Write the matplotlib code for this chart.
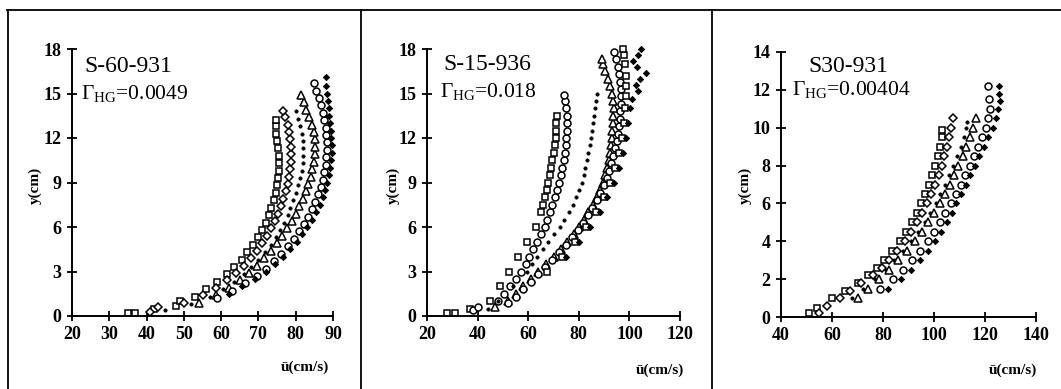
import matplotlib
matplotlib.use("Agg")
import matplotlib.pyplot as plt
from matplotlib.lines import Line2D

plt.rcParams['font.family'] = ['Liberation Serif', 'DejaVu Serif']
plt.rcParams['mathtext.fontset'] = 'custom'
plt.rcParams['mathtext.rm'] = 'Liberation Serif'
plt.rcParams['mathtext.it'] = 'Liberation Serif:italic'
plt.rcParams['mathtext.bf'] = 'Liberation Serif:bold'

# ---------------- Panel 1: S-60-931 ----------------
p1_title = "S-60-931"
p1_gamma = "0.0049"
p1_xticks = [20, 30, 40, 50, 60, 70, 80, 90]
p1_yticks = [0, 3, 6, 9, 12, 15, 18]

p1_s1_y = [0.2, 0.2, 0.5, 0.7, 1.0, 1.3, 1.8, 2.3, 2.8, 3.3, 3.8, 4.3, 4.8, 5.3, 5.8, 6.3, 6.8, 7.3, 7.8, 8.3, 8.8, 9.3, 9.8, 10.3, 10.8, 11.3, 11.8, 12.3, 12.8, 13.2]
p1_s1_u = [35, 37, 42, 48, 49, 53, 56, 59, 61.5, 63.5, 65.5, 67, 68.5, 69.8, 71, 72, 72.8, 73.5, 74.1, 74.6, 75, 75.3, 75.5, 75.6, 75.5, 75.3, 75, 74.8, 74.6, 74.6]

p1_s2_y = [0.3, 0.6, 0.9, 1.4, 1.9, 2.4, 2.9, 3.4, 3.9, 4.4, 4.9, 5.4, 5.9, 6.4, 6.9, 7.4, 7.9, 8.4, 8.9, 9.4, 9.9, 10.4, 10.9, 11.4, 11.9, 12.4, 12.9, 13.4, 13.8]
p1_s2_u = [41, 43, 50, 55, 58.5, 61.5, 64, 66, 68, 69.6, 71, 72.3, 73.4, 74.4, 75.3, 76, 76.7, 77.3, 77.8, 78.2, 78.5, 78.7, 78.8, 78.8, 78.6, 78.3, 77.8, 77.2, 76.7]

p1_s3_y = [0.4, 0.8, 1.3, 1.8, 2.3, 2.8, 3.3, 3.8, 4.3, 4.8, 5.3, 5.8, 6.3, 6.8, 7.3, 7.8, 8.3, 8.8, 9.3, 9.8, 10.3, 10.8, 11.3, 11.8, 12.3, 12.8, 13.3, 13.8]
p1_s3_u = [45, 52, 57, 60.5, 63.5, 66, 68, 70, 71.8, 73.3, 74.6, 75.8, 76.9, 77.8, 78.6, 79.4, 80.1, 80.7, 81.2, 81.6, 81.9, 82, 82, 81.9, 81.6, 81.2, 80.6, 80]

p1_s4_y = [0.9, 1.4, 1.9, 2.4, 2.9, 3.4, 3.9, 4.4, 4.9, 5.4, 5.9, 6.4, 6.9, 7.4, 7.9, 8.4, 8.9, 9.4, 9.9, 10.4, 10.9, 11.4, 11.9, 12.4, 12.9, 13.4, 13.9, 14.4, 14.9]
p1_s4_u = [54, 58.5, 62, 65, 67.5, 69.7, 71.6, 73.4, 75, 76.4, 77.7, 78.9, 80, 81, 81.9, 82.7, 83.4, 84, 84.5, 84.9, 85.1, 85.2, 85.1, 84.8, 84.3, 83.6, 82.8, 82.1, 81.5]

p1_s5_y = [1.2, 1.7, 2.2, 2.7, 3.2, 3.7, 4.2, 4.7, 5.2, 5.7, 6.2, 6.7, 7.2, 7.7, 8.2, 8.7, 9.2, 9.7, 10.2, 10.7, 11.2, 11.7, 12.2, 12.7, 13.2, 13.7, 14.2, 14.7, 15.2, 15.7]
p1_s5_u = [59, 63, 66.5, 69.5, 72, 74.2, 76.1, 77.9, 79.5, 80.9, 82.2, 83.3, 84.3, 85.2, 86, 86.7, 87.3, 87.7, 88, 88.2, 88.3, 88.3, 88.2, 88, 87.7, 87.3, 86.8, 86.2, 85.5, 84.8]

p1_s6_y = [1.5, 2.0, 2.5, 3.0, 3.5, 4.0, 4.5, 5.0, 5.5, 6.0, 6.5, 7.0, 7.5, 8.0, 8.5, 9.0, 9.5, 10, 10.5, 11, 11.5, 12, 12.5, 13, 13.5, 14, 14.5, 15, 15.5, 16.1]
p1_s6_u = [62, 65.5, 69, 72, 74.5, 76.7, 78.6, 80.3, 81.8, 83.1, 84.3, 85.4, 86.4, 87.2, 87.9, 88.5, 89, 89.3, 89.5, 89.6, 89.6, 89.5, 89.4, 89.2, 89, 88.8, 88.6, 88.4, 88.2, 88]

# ---------------- Panel 2: S-15-936 ----------------
p2_title = "S-15-936"
p2_gamma = "0.018"
p2_xticks = [20, 40, 60, 80, 100, 120]
p2_yticks = [0, 3, 6, 9, 12, 15, 18]

p2_s1_y = [0.2, 0.2, 0.5, 1.0, 2.0, 3.0, 4.0, 5.0, 6.0, 7.0, 7.5, 8.0, 8.5, 9.0, 9.5, 10.0, 10.5, 11.0, 11.5, 12.0, 12.5, 13.0, 13.5]
p2_s1_u = [28, 31, 37, 45, 49, 52.5, 56, 59.5, 63, 65, 65.8, 66.5, 67.3, 68, 68.5, 69, 69.5, 70, 70.4, 70.8, 71, 71, 71.5]

p2_s2_y = [0.4, 0.6, 1.0, 1.5, 2.0, 2.5, 3.0, 3.5, 4.0, 4.5, 5.0, 5.5, 6.0, 6.5, 7.0, 7.5, 8.0, 8.5, 9.0, 9.5, 10.0, 10.5, 11.0, 11.5, 12.0, 12.5, 13.0, 13.5, 14.0, 14.5, 14.9]
p2_s2_u = [38, 40, 48, 50.5, 53, 55, 57, 59, 60.5, 62, 63.5, 65, 66.5, 67.5, 68.5, 69.5, 70.5, 71.3, 72, 72.8, 73.5, 74, 74.5, 74.8, 75, 75.2, 75.3, 75.2, 75, 74.6, 74]

p2_s3_y = [0.5, 1.0, 2.0, 3.0, 3.5, 4.0, 4.5, 5.0, 5.5, 6.0, 6.5, 7.0, 7.5, 8.0, 8.5, 9.0, 9.5, 10, 10.5, 11, 11.5, 12, 12.5, 13, 13.5, 14, 14.5, 15]
p2_s3_u = [44, 48, 54, 59.5, 61.5, 63.5, 65.8, 68, 70.3, 72.5, 74.3, 76, 77.6, 79, 80.2, 81.2, 82, 82.6, 83.2, 83.8, 84.4, 85, 85.4, 85.8, 86.2, 86.5, 86.9, 87.2]

p2_s4_y = [0.6, 1.0, 1.5, 2.0, 2.5, 3.0, 3.5, 4.0, 4.5, 5.0, 5.5, 6.0, 6.5, 7.0, 7.5, 8.0, 8.5, 9.0, 9.5, 10, 10.5, 11, 11.5, 12, 12.5, 13, 13.5, 14, 14.5, 15, 15.5, 16, 16.5, 17, 17.3]
p2_s4_u = [47, 52, 55, 58, 61, 64, 67, 70, 72.8, 75.5, 78, 80, 82, 83.8, 85.5, 87, 88.3, 89.5, 90.4, 91.2, 91.8, 92.3, 92.7, 93, 93.3, 93.5, 93.7, 93.8, 93.7, 93.3, 92.5, 91.5, 90.5, 89.6, 89.3]

p2_s5_y = [0.9, 1.3, 1.8, 2.3, 2.8, 3.3, 3.8, 4.3, 4.8, 5.3, 5.8, 6.3, 6.8, 7.3, 7.8, 8.3, 8.8, 9.3, 9.8, 10.3, 10.8, 11.3, 11.8, 12.3, 12.8, 13.3, 13.8, 14.3, 14.8, 15.3, 15.8, 16.3, 16.8, 17.3, 17.8]
p2_s5_u = [52, 55, 58, 61, 64, 66.8, 69.6, 72.3, 74.8, 77.2, 79.5, 81.6, 83.5, 85.3, 87, 88.5, 89.8, 91, 92, 92.9, 93.7, 94.4, 95, 95.5, 95.9, 96.2, 96.4, 96.6, 96.7, 96.6, 96.4, 96, 95.3, 94.6, 94]

p2_s6_y = [3.0, 4.0, 5.0, 6.0, 7.0, 8.0, 9.0, 10.0, 11.0, 12.0, 13.0, 14.0, 14.8, 15.5, 16.2, 17.0, 17.6, 18.0]
p2_s6_u = [67.5, 73.5, 78.5, 83, 86.8, 90, 92.5, 94.5, 96, 97, 97.8, 98.3, 98.6, 98.7, 98.6, 98.3, 97.9, 97.5]

p2_s7_y = [4.0, 5.0, 6.0, 7.0, 8.0, 9.0, 10.0, 11.0, 12.0, 13.0, 14.0, 14.6, 15.2, 15.6, 16.0, 16.4, 16.8, 17.2, 17.6, 18.0]
p2_s7_u = [75, 80, 84.5, 88.3, 91.3, 93.8, 95.8, 97.3, 98.5, 99.5, 100.3, 101, 103.5, 102.5, 104, 106.5, 103, 101.5, 103.5, 104.5]

# ---------------- Panel 3: S30-931 ----------------
p3_title = "S30-931"
p3_gamma = "0.00404"
p3_xticks = [40, 60, 80, 100, 120, 140]
p3_yticks = [0, 2, 4, 6, 8, 10, 12, 14]

p3_s1_y = [0.2, 0.5, 1.0, 1.4, 1.8, 2.2, 2.6, 3.0, 3.5, 4.0, 4.5, 5.0, 5.5, 6.0, 6.5, 7.0, 7.5, 8.0, 8.5, 9.0, 9.5, 9.9]
p3_s1_u = [51, 54, 60, 65, 70, 74, 77.5, 80.5, 83.5, 86.5, 89, 91.2, 93.2, 95, 96.6, 98, 99.3, 100.5, 101.5, 102.3, 103, 103.3]

p3_s2_y = [0.2, 0.6, 1.0, 1.4, 1.8, 2.2, 2.6, 3.0, 3.5, 4.0, 4.5, 5.0, 5.5, 6.0, 6.5, 7.0, 7.5, 8.0, 8.5, 9.0, 9.5, 10.0, 10.5]
p3_s2_u = [55, 58, 63, 67, 71.5, 76, 79.5, 82.5, 85.5, 88.5, 91, 93.3, 95.3, 97.2, 98.9, 100.4, 101.8, 103, 104.1, 105, 105.9, 106.7, 107.5]

p3_s3_y = [1.0, 1.5, 2.0, 2.5, 3.0, 3.5, 4.0, 4.5, 5.0, 5.5, 6.0, 6.5, 7.0, 7.5, 8.0, 8.5, 9.0, 9.5, 10.0, 10.3]
p3_s3_u = [68, 72, 77, 81, 84.5, 88, 91, 93.8, 96.3, 98.6, 100.6, 102.5, 104.3, 106, 107.5, 109, 110.4, 111.7, 112.6, 113]

p3_s4_y = [1.0, 1.5, 2.0, 2.5, 3.0, 3.5, 4.0, 4.5, 5.0, 5.5, 6.0, 6.5, 7.0, 7.5, 8.0, 8.5, 9.0, 9.5, 10.0, 10.5]
p3_s4_u = [70, 74, 78.5, 82.5, 86, 89.5, 92.5, 95.3, 97.8, 100.1, 102.2, 104.2, 106.1, 107.9, 109.6, 111.2, 112.7, 114.1, 115.4, 116.5]

p3_s5_y = [1.5, 2.0, 2.5, 3.0, 3.5, 4.0, 4.5, 5.0, 5.5, 6.0, 6.5, 7.0, 7.5, 8.0, 8.5, 9.0, 9.5, 10.0, 10.5, 11.0, 11.5, 12.2]
p3_s5_u = [79, 84, 88, 91.5, 94.5, 97.5, 100, 102.3, 104.5, 106.5, 108.5, 110.4, 112.3, 114, 115.7, 117.3, 118.8, 120.2, 121.3, 122, 121.7, 121.2]

p3_s6_y = [1.5, 2.0, 2.5, 3.0, 3.5, 4.0, 4.5, 5.0, 5.5, 6.0, 6.5, 7.0, 7.5, 8.0, 8.5, 9.0, 9.5, 10.0, 10.5, 11.0, 11.4, 11.8, 12.2]
p3_s6_u = [82, 87, 91, 94.5, 97.5, 100.3, 102.8, 105, 107, 108.8, 110.6, 112.4, 114.2, 116, 117.8, 119.6, 121.3, 123, 124.3, 125.2, 126, 125.5, 125.3]

ylabel_text = "y(cm)"
xlabel_text = "ū(cm/s)"

W, H = 1061, 389
fig = plt.figure(figsize=(W / 100, H / 100), dpi=100)
fig.patch.set_facecolor('white')

def fx(px):
    return px / W

def fy(py):
    return 1 - py / H

# frame lines
for seg in [((7, 1061), (10, 10)), ((8, 8), (10, 389)), ((361, 361), (10, 389)), ((712, 712), (10, 389))]:
    (x0, x1), (y0, y1) = seg
    fig.add_artist(Line2D([fx(x0), fx(x1)], [fy(y0), fy(y1)], color='black', lw=1.3))

ms = 5.0
mew = 1.1
styles = {
    'sq': dict(marker='s', mfc='white', mec='black', ms=ms, mew=mew, ls='none'),
    'di': dict(marker='D', mfc='white', mec='black', ms=ms - 0.8, mew=mew, ls='none'),
    'dot': dict(marker='o', mfc='black', mec='black', ms=2.4, mew=0.5, ls='none'),
    'tri': dict(marker='^', mfc='white', mec='black', ms=ms + 0.4, mew=mew, ls='none'),
    'ci': dict(marker='o', mfc='white', mec='black', ms=ms, mew=mew, ls='none'),
    'fdi': dict(marker='D', mfc='black', mec='black', ms=3.2, mew=0.6, ls='none'),
}

panels = [
    dict(rect=(72, 333, 316, 49), xlim=(20, 90), ylim=(0, 18), xt=p1_xticks, yt=p1_yticks,
         title=p1_title, gamma=p1_gamma,
         series=[(p1_s1_u, p1_s1_y, 'sq'), (p1_s2_u, p1_s2_y, 'di'), (p1_s3_u, p1_s3_y, 'dot'),
                 (p1_s4_u, p1_s4_y, 'tri'), (p1_s5_u, p1_s5_y, 'ci'), (p1_s6_u, p1_s6_y, 'fdi')],
         tpos=(128, 67), gpos=(81, 94), ylab=(35, 185), xlab=(305, 367)),
    dict(rect=(427, 680, 316, 49), xlim=(20, 120), ylim=(0, 18), xt=p2_xticks, yt=p2_yticks,
         title=p2_title, gamma=p2_gamma,
         series=[(p2_s1_u, p2_s1_y, 'sq'), (p2_s2_u, p2_s2_y, 'ci'), (p2_s3_u, p2_s3_y, 'dot'),
                 (p2_s4_u, p2_s4_y, 'tri'), (p2_s5_u, p2_s5_y, 'ci'), (p2_s6_u, p2_s6_y, 'sq'),
                 (p2_s7_u, p2_s7_y, 'fdi')],
         tpos=(487, 65), gpos=(440, 92), ylab=(393, 185), xlab=(660, 370)),
    dict(rect=(781, 1036, 317, 52), xlim=(40, 140), ylim=(0, 14), xt=p3_xticks, yt=p3_yticks,
         title=p3_title, gamma=p3_gamma,
         series=[(p3_s1_u, p3_s1_y, 'sq'), (p3_s2_u, p3_s2_y, 'di'), (p3_s3_u, p3_s3_y, 'dot'),
                 (p3_s4_u, p3_s4_y, 'tri'), (p3_s5_u, p3_s5_y, 'ci'), (p3_s6_u, p3_s6_y, 'fdi')],
         tpos=(848, 66), gpos=(792, 90), ylab=(745, 185), xlab=(1013, 370)),
]

for p in panels:
    l, r, b, t = p['rect']
    ax = fig.add_axes([fx(l), fy(b), fx(r) - fx(l), fy(t) - fy(b)])
    ax.set_xlim(*p['xlim'])
    ax.set_ylim(*p['ylim'])
    ax.set_xticks(p['xt'])
    ax.set_yticks(p['yt'])
    for s in ['top', 'right']:
        ax.spines[s].set_visible(False)
    for s in ['left', 'bottom']:
        ax.spines[s].set_linewidth(1.4)
    ax.tick_params(direction='inout', length=7, width=1.3, labelsize=13, pad=4)
    for lab in ax.get_xticklabels() + ax.get_yticklabels():
        lab.set_fontweight('bold')
    for u, y, st in p['series']:
        ax.plot(u, y, clip_on=False, **styles[st])
    fig.text(fx(p['tpos'][0]), fy(p['tpos'][1]), p['title'], ha='center', va='center', fontsize=17)
    fig.text(fx(p['gpos'][0]), fy(p['gpos'][1]), r"$\mathrm{\Gamma_{HG}}$=" + p['gamma'],
             ha='left', va='center', fontsize=15.5)
    fig.text(fx(p['ylab'][0]), fy(p['ylab'][1]), ylabel_text, rotation=90, ha='center', va='center',
             fontsize=11, fontweight='bold')
    fig.text(fx(p['xlab'][0]), fy(p['xlab'][1]), xlabel_text, ha='center', va='center',
             fontsize=11, fontweight='bold')

fig.savefig('out.png', dpi=100, facecolor='white')
